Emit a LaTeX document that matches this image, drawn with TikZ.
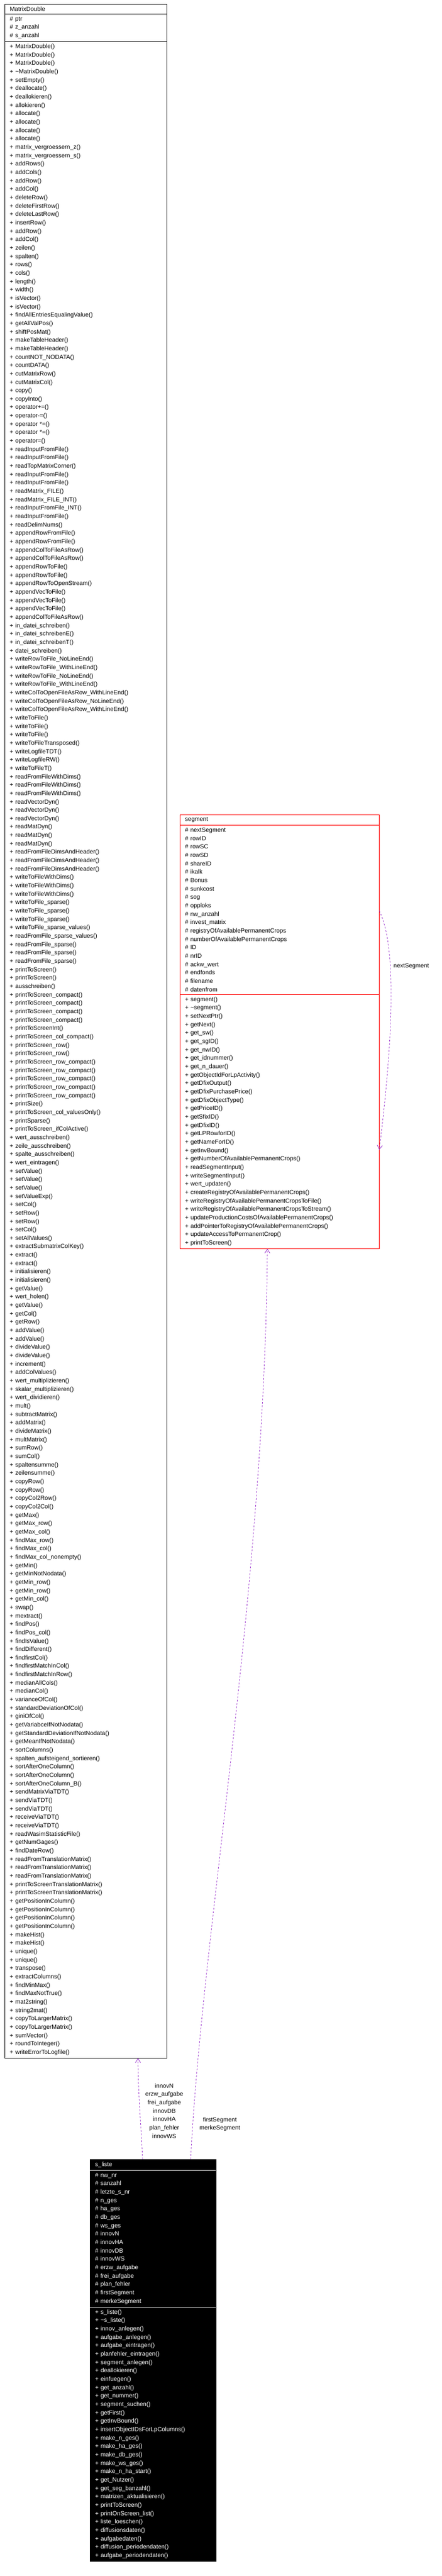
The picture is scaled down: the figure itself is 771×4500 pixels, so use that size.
\documentclass[tikz,border=0pt]{standalone}
\usepackage{fontspec}
\setmainfont{Liberation Sans}
\usetikzlibrary{shapes.multipart,arrows.meta,positioning}
\definecolor{relpurple}{RGB}{154,50,205}
\newcommand\op[1]{+ #1()\\}
\newcommand\attr[1]{\# #1\\}

\begin{document}
\begin{tikzpicture}[x=1pt,y=1pt,
    classbox/.style={rectangle split, rectangle split parts=3, draw, anchor=north west,
        inner xsep=9pt, inner ysep=4.5pt, font=\fontsize{10.5}{14.66}\selectfont},
    rel/.style={->, >={Straight Barb[length=7pt,width=9pt]}, dashed, relpurple, thick},
    rellabel/.style={align=center, text=black, font=\fontsize{10.5}{14.66}\selectfont}
]
    \useasboundingbox (0,0) rectangle (771,-4500);

    % MatrixDouble
    \node [classbox, text width=265pt] (MatrixDouble) at (8,-7) {\centering MatrixDouble
    \nodepart{two}
    \attr{ptr}\attr{z\_anzahl}\# s\_anzahl
    \nodepart{three}
    \op{MatrixDouble}\op{MatrixDouble}\op{MatrixDouble}\op{\textasciitilde MatrixDouble}\op{setEmpty}
    \op{deallocate}\op{deallokieren}\op{allokieren}\op{allocate}\op{allocate}\op{allocate}\op{allocate}
    \op{matrix\_vergroessern\_z}\op{matrix\_vergroessern\_s}\op{addRows}\op{addCols}\op{addRow}\op{addCol}
    \op{deleteRow}\op{deleteFirstRow}\op{deleteLastRow}\op{insertRow}\op{addRow}\op{addCol}
    \op{zeilen}\op{spalten}\op{rows}\op{cols}\op{length}\op{width}\op{isVector}\op{isVector}
    \op{findAllEntriesEqualingValue}\op{getAllValPos}\op{shiftPosMat}\op{makeTableHeader}\op{makeTableHeader}
    \op{countNOT\_NODATA}\op{countDATA}\op{cutMatrixRow}\op{cutMatrixCol}\op{copy}\op{copyInto}
    \op{operator+=}\op{operator-=}\op{operator *=}\op{operator *=}\op{operator=}
    \op{readInputFromFile}\op{readInputFromFile}\op{readTopMatrixCorner}\op{readInputFromFile}\op{readInputFromFile}
    \op{readMatrix\_FILE}\op{readMatrix\_FILE\_INT}\op{readInputFromFile\_INT}\op{readInputFromFile}\op{readDelimNums}
    \op{appendRowFromFile}\op{appendRowFromFile}\op{appendColToFileAsRow}\op{appendColToFileAsRow}
    \op{appendRowToFile}\op{appendRowToFile}\op{appendRowToOpenStream}
    \op{appendVecToFile}\op{appendVecToFile}\op{appendVecToFile}\op{appendColToFileAsRow}
    \op{in\_datei\_schreiben}\op{in\_datei\_schreibenE}\op{in\_datei\_schreibenT}\op{datei\_schreiben}
    \op{writeRowToFile\_NoLineEnd}\op{writeRowToFile\_WithLineEnd}\op{writeRowToFile\_NoLineEnd}\op{writeRowToFile\_WithLineEnd}
    \op{writeColToOpenFileAsRow\_WithLineEnd}\op{writeColToOpenFileAsRow\_NoLineEnd}\op{writeColToOpenFileAsRow\_WithLineEnd}
    \op{writeToFile}\op{writeToFile}\op{writeToFile}\op{writeToFileTransposed}\op{writeLogfileTDT}\op{writeLogfileRW}\op{writeToFileT}
    \op{readFromFileWithDims}\op{readFromFileWithDims}\op{readFromFileWithDims}
    \op{readVectorDyn}\op{readVectorDyn}\op{readVectorDyn}\op{readMatDyn}\op{readMatDyn}\op{readMatDyn}
    \op{readFromFileDimsAndHeader}\op{readFromFileDimsAndHeader}\op{readFromFileDimsAndHeader}
    \op{writeToFileWithDims}\op{writeToFileWithDims}\op{writeToFileWithDims}
    \op{writeToFile\_sparse}\op{writeToFile\_sparse}\op{writeToFile\_sparse}\op{writeToFile\_sparse\_values}
    \op{readFromFile\_sparse\_values}\op{readFromFile\_sparse}\op{readFromFile\_sparse}\op{readFromFile\_sparse}
    \op{printToScreen}\op{printToScreen}\op{ausschreiben}
    \op{printToScreen\_compact}\op{printToScreen\_compact}\op{printToScreen\_compact}\op{printToScreen\_compact}
    \op{printToScreenInt}\op{printToScreen\_col\_compact}\op{printToScreen\_row}\op{printToScreen\_row}
    \op{printToScreen\_row\_compact}\op{printToScreen\_row\_compact}\op{printToScreen\_row\_compact}\op{printToScreen\_row\_compact}\op{printToScreen\_row\_compact}
    \op{printSize}\op{printToScreen\_col\_valuesOnly}\op{printSparse}\op{printToScreen\_ifColActive}
    \op{wert\_ausschreiben}\op{zeile\_ausschreiben}\op{spalte\_ausschreiben}\op{wert\_eintragen}
    \op{setValue}\op{setValue}\op{setValue}\op{setValueExp}\op{setCol}\op{setRow}\op{setRow}\op{setCol}\op{setAllValues}
    \op{extractSubmatrixColKey}\op{extract}\op{extract}\op{initialisieren}\op{initialisieren}
    \op{getValue}\op{wert\_holen}\op{getValue}\op{getCol}\op{getRow}\op{addValue}\op{addValue}
    \op{divideValue}\op{divideValue}\op{increment}\op{addColValues}\op{wert\_multiplizieren}\op{skalar\_multiplizieren}
    \op{wert\_dividieren}\op{mult}\op{subtractMatrix}\op{addMatrix}\op{divideMatrix}\op{multMatrix}
    \op{sumRow}\op{sumCol}\op{spaltensumme}\op{zeilensumme}\op{copyRow}\op{copyRow}\op{copyCol2Row}\op{copyCol2Col}
    \op{getMax}\op{getMax\_row}\op{getMax\_col}\op{findMax\_row}\op{findMax\_col}\op{findMax\_col\_nonempty}
    \op{getMin}\op{getMinNotNodata}\op{getMin\_row}\op{getMin\_row}\op{getMin\_col}\op{swap}\op{mextract}
    \op{findPos}\op{findPos\_col}\op{findIsValue}\op{findDifferent}\op{findfirstCol}\op{findfirstMatchInCol}\op{findfirstMatchInRow}
    \op{medianAllCols}\op{medianCol}\op{varianceOfCol}\op{standardDeviationOfCol}\op{giniOfCol}
    \op{getVariabceIfNotNodata}\op{getStandardDeviationIfNotNodata}\op{getMeanIfNotNodata}
    \op{sortColumns}\op{spalten\_aufsteigend\_sortieren}\op{sortAfterOneColumn}\op{sortAfterOneColumn}\op{sortAfterOneColumn\_B}
    \op{sendMatrixViaTDT}\op{sendViaTDT}\op{sendViaTDT}\op{receiveViaTDT}\op{receiveViaTDT}
    \op{readWasimStatisticFile}\op{getNumGages}\op{findDateRow}
    \op{readFromTranslationMatrix}\op{readFromTranslationMatrix}\op{readFromTranslationMatrix}
    \op{printToScreenTranslationMatrix}\op{printToScreenTranslationMatrix}
    \op{getPositionInColumn}\op{getPositionInColumn}\op{getPositionInColumn}\op{getPositionInColumn}
    \op{makeHist}\op{makeHist}\op{unique}\op{unique}\op{transpose}\op{extractColumns}\op{findMinMax}\op{findMaxNotTrue}
    \op{mat2string}\op{string2mat}\op{copyToLargerMatrix}\op{copyToLargerMatrix}\op{sumVector}\op{roundToInteger}
    + writeErrorToLogfile()};

    % segment
    \node [classbox, draw=red, text width=330pt] (segment) at (314,-1423) {\centering segment
    \nodepart{two}
    \attr{nextSegment}\attr{rowID}\attr{rowSC}\attr{rowSD}\attr{shareID}\attr{ikalk}\attr{Bonus}\attr{sunkcost}\attr{sog}\attr{opploks}
    \attr{nw\_anzahl}\attr{invest\_matrix}\attr{registryOfAvailablePermanentCrops}\attr{numberOfAvailablePermanentCrops}
    \attr{ID}\attr{nrID}\attr{ackw\_wert}\attr{endfonds}\attr{filename}\# datenfrom
    \nodepart{three}
    \op{segment}\op{\textasciitilde segment}\op{setNextPtr}\op{getNext}\op{get\_sw}\op{get\_sgID}\op{get\_nwID}
    \op{get\_idnummer}\op{get\_n\_dauer}\op{getObjectIdForLpActivity}\op{getDfixOutput}\op{getDfixPurchasePrice}
    \op{getDfixObjectType}\op{getPriceID}\op{getSfixID}\op{getDfixID}\op{getLPRowforID}\op{getNameForID}\op{getInvBound}
    \op{getNumberOfAvailablePermanentCrops}\op{readSegmentInput}\op{writeSegmentInput}\op{wert\_updaten}
    \op{createRegistryOfAvailablePermanentCrops}\op{writeRegistryOfAvailablePermanentCropsToFile}
    \op{writeRegistryOfAvailablePermanentCropsToStream}\op{updateProductionCostsOfAvailablePermanentCrops}
    \op{addPointerToRegistryOfAvailablePermanentCrops}\op{updateAccessToPermanentCrop}
    + printToScreen()};

    % s_liste
    \node [classbox, fill=black, text=white, rectangle split draw splits=false, text width=202pt] (sListe) at (157,-3772) {\centering s\_liste
    \nodepart{two}
    \attr{nw\_nr}\attr{sanzahl}\attr{letzte\_s\_nr}\attr{n\_ges}\attr{ha\_ges}\attr{db\_ges}\attr{ws\_ges}
    \attr{innovN}\attr{innovHA}\attr{innovDB}\attr{innovWS}\attr{erzw\_aufgabe}\attr{frei\_aufgabe}\attr{plan\_fehler}
    \attr{firstSegment}\# merkeSegment
    \nodepart{three}
    \op{s\_liste}\op{\textasciitilde s\_liste}\op{innov\_anlegen}\op{aufgabe\_anlegen}\op{aufgabe\_eintragen}
    \op{planfehler\_eintragen}\op{segment\_anlegen}\op{deallokieren}\op{einfuegen}\op{get\_anzahl}\op{get\_nummer}
    \op{segment\_suchen}\op{getFirst}\op{getInvBound}\op{insertObjectIDsForLpColumns}\op{make\_n\_ges}
    \op{make\_ha\_ges}\op{make\_db\_ges}\op{make\_ws\_ges}\op{make\_n\_ha\_start}\op{get\_Nutzer}
    \op{get\_seg\_banzahl}\op{matrizen\_aktualisieren}\op{printToScreen}\op{printOnScreen\_list}
    \op{liste\_loeschen}\op{diffusionsdaten}\op{aufgabedaten}\op{diffusion\_periodendaten}
    + aufgabe\_periodendaten()};
    \draw [white] (sListe.text split west) -- (sListe.text split east);
    \draw [white] (sListe.two split west) -- (sListe.two split east);

    % Relations
    \coordinate (mdIn) at ([xshift=233pt]MatrixDouble.south west);
    \coordinate (slOut) at ([xshift=92pt]sListe.north west);
    \coordinate (slOut2) at ([xshift=176pt]sListe.north west);
    \coordinate (sgIn) at ([xshift=153pt]segment.south west);
    \coordinate (loopOut) at ([yshift=-168pt]segment.north east);
    \coordinate (loopIn) at ([yshift=173pt]segment.south east);

    \draw [rel] (slOut) .. controls +(-2,50) and +(0,-60) .. (mdIn)
        node [rellabel, pos=0.5, right=6pt] {innovN\\erzw\_aufgabe\\frei\_aufgabe\\innovDB\\innovHA\\plan\_fehler\\innovWS};
    \draw [rel] (slOut2) .. controls +(20,400) and +(-5,-600) .. (sgIn)
        node [rellabel, pos=0.05, right=8pt] {firstSegment\\merkeSegment};
    \draw [rel] (loopOut) .. controls +(30,-60) and +(25,200) .. (loopIn)
        node [rellabel, pos=0.35, right=2pt] {nextSegment};
\end{tikzpicture}
\end{document}
